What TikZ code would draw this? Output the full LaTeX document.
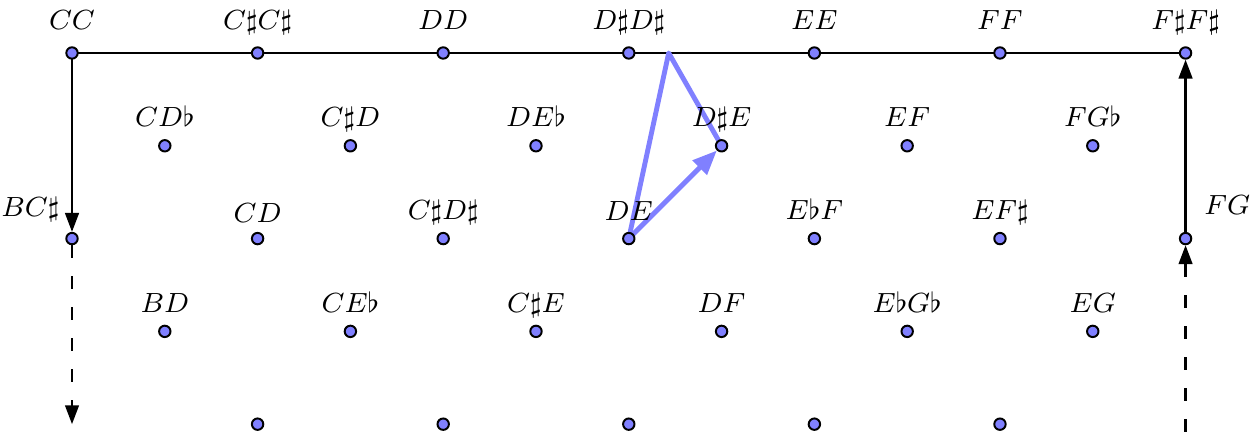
\documentclass[tikz,border=0pt]{standalone}
\usetikzlibrary{arrows.meta, backgrounds}
\definecolor{dotBlue}{HTML}{8080FF}

\begin{document}
\begin{tikzpicture}[
  pt/.style={circle, draw=black, fill=dotBlue, line width=0.6pt, inner sep=0pt, minimum size=3.5pt},
  every label/.style={font=\footnotesize, scale=1.0625, inner sep=0pt},
  nm/.style={label={[anchor=base, label distance=3.5pt]above:#1}},
  nmtop/.style={label={[anchor=base, label distance=4.8pt]above:#1}},
  path/.style={line width=0.7pt, draw=black},
  tip/.style={-{Triangle[length=5.8pt, width=4.2pt]}},
  dashline/.style={dash pattern=on 4pt off 5.5pt},
  move/.style={line width=1.5pt, draw=dotBlue, line join=round}
]
\useasboundingbox (-0.776,0.571) rectangle (12.716,-4.116);
\node[pt, nmtop={$CC$}] (CC) at (0,0) {};
\node[pt, nmtop={$C\sharp C\sharp$}] (CsCs) at (2,0) {};
\node[pt, nmtop={$DD$}] (DD) at (4,0) {};
\node[pt, nmtop={$D\sharp D\sharp$}] (DsDs) at (6,0) {};
\node[pt, nmtop={$EE$}] (EE) at (8,0) {};
\node[pt, nmtop={$FF$}] (FF) at (10,0) {};
\node[pt, nmtop={$F\sharp F\sharp$}] (FsFs) at (12,0) {};
\node[pt, nm={$CD\flat$}] (CDb) at (1,-1) {};
\node[pt, nm={$C\sharp D$}] (CsD) at (3,-1) {};
\node[pt, nm={$DE\flat$}] (DEb) at (5,-1) {};
\node[pt, nm={$D\sharp E$}] (DsE) at (7,-1) {};
\node[pt, nm={$EF$}] (EF) at (9,-1) {};
\node[pt, nm={$FG\flat$}] (FGb) at (11,-1) {};
\node[pt, label={[anchor=base, label distance=4.3pt, xshift=-12pt]above:$BC\sharp$}] (BCs) at (0,-2) {};
\node[pt, label={[anchor=base, label distance=2.8pt]above:$CD$}] (CD) at (2,-2) {};
\node[pt, nm={$C\sharp D\sharp$}] (CsDs) at (4,-2) {};
\node[pt, label={[anchor=base, label distance=3.2pt]above:$DE$}] (DE) at (6,-2) {};
\node[pt, nm={$E\flat F$}] (EbF) at (8,-2) {};
\node[pt, nm={$EF\sharp$}] (EFs) at (10,-2) {};
\node[pt, label={[anchor=base, label distance=5pt, xshift=12pt]above:$FG$}] (FG) at (12,-2) {};
\node[pt, nm={$BD$}] (BD) at (1,-3) {};
\node[pt, nm={$CE\flat$}] (CEb) at (3,-3) {};
\node[pt, nm={$C\sharp E$}] (CsE) at (5,-3) {};
\node[pt, nm={$DF$}] (DF) at (7,-3) {};
\node[pt, nm={$E\flat G\flat$}] (EbGb) at (9,-3) {};
\node[pt, nm={$EG$}] (EG) at (11,-3) {};
\node[pt] (b1) at (2,-4) {};
\node[pt] (b2) at (4,-4) {};
\node[pt] (b3) at (6,-4) {};
\node[pt] (b4) at (8,-4) {};
\node[pt] (b5) at (10,-4) {};
\coordinate (turn) at (6.43,0);
\coordinate (leftend) at (0,-4.0);
\coordinate (rightstart) at (12,-4.08);
\begin{scope}[on background layer]
\draw[path] (CC.center) -- (FsFs.center);
\draw[path, tip] (CC.center) -- (BCs);
\draw[path, tip, dashline] (BCs) -- (leftend);
\draw[path, tip, dashline] (rightstart) -- (FG);
\draw[path, tip] (FG) -- (FsFs);
\draw[move] (DE.center) -- (turn) -- (DsE.center);
\draw[move, -{Triangle[length=7.5pt, width=6pt]}] (DE.center) -- (DsE);
\end{scope}
\end{tikzpicture}
\end{document}
